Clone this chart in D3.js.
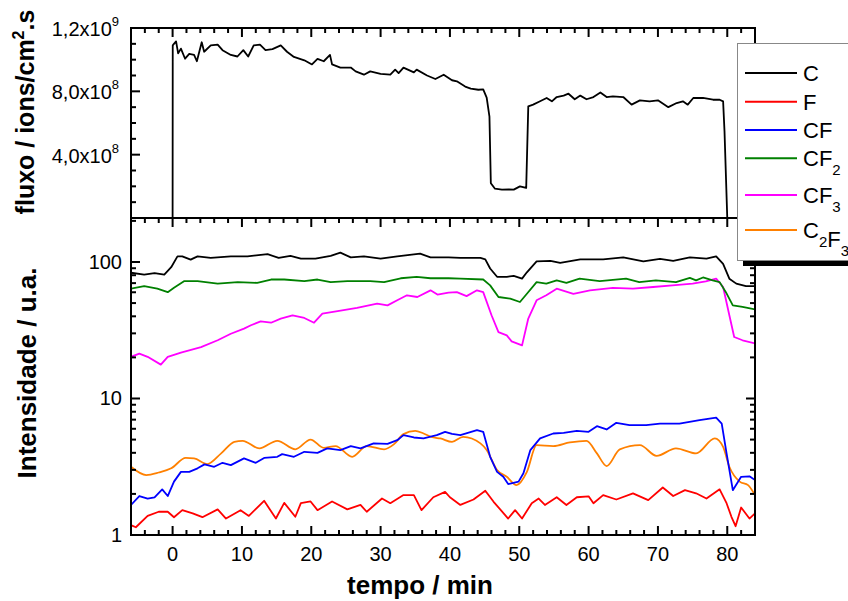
<!DOCTYPE html>
<html>
<head>
<meta charset="utf-8">
<script src="https://d3js.org/d3.v7.min.js"></script>
<style>
  body { margin: 0; background: #fff; }
  svg { display: block; font-family: "Liberation Sans", Arial, sans-serif; }
</style>
</head>
<body>
<svg id="chart" width="848" height="601"></svg>
<script>
// flux (units of 1e8 ions/cm2.s) vs time (min)
const fluxData = [[-6,0],[0,0],[0.02,10.9],[0.1,10.95],[0.5,11.15],[0.8,10.4],[1.2,10.7],[1.8,10.06],[2.4,10.36],[3.1,10.3],[3.5,9.9],[4.2,11.1],[4.55,10.5],[5.5,10.9],[6.5,10.95],[7.2,10.6],[8.4,10.3],[9.35,10.2],[10.2,10.6],[10.9,10.2],[11.7,10.9],[12.6,10.95],[13.4,10.6],[14.4,10.67],[15.6,10.9],[16.5,10.5],[17.5,10.17],[19.0,9.96],[20.1,9.7],[20.9,10.05],[21.8,9.9],[22.7,10.3],[23.0,9.7],[24.2,9.5],[25.7,9.5],[26.4,9.26],[27.6,9.05],[28.5,9.26],[30.0,9.1],[31.4,9.05],[32.1,9.37],[32.6,9.15],[33.3,9.5],[34.8,9.2],[35.2,9.37],[36.7,9.0],[37.9,8.78],[39.1,9.05],[40.3,8.7],[41.0,8.63],[42.2,8.3],[43.0,8.17],[44.1,8.1],[44.8,8.12],[45.3,7.6],[45.7,6.4],[45.9,2.2],[46.5,1.85],[47.5,1.79],[48.5,1.8],[49.2,1.79],[50.1,2.0],[51.0,1.9],[51.3,7.05],[52.0,7.16],[53.0,7.37],[53.95,7.58],[54.7,7.37],[55.4,7.64],[56.4,7.73],[57.1,7.85],[58.0,7.5],[58.8,7.73],[59.7,7.5],[60.7,7.64],[61.7,7.93],[62.6,7.64],[63.5,7.68],[65.0,7.64],[66.2,7.16],[67.4,7.43],[68.8,7.37],[70.0,7.43],[71.5,7.0],[72.7,7.26],[73.6,7.37],[74.3,7.16],[75.1,7.58],[76.5,7.58],[77.95,7.47],[78.9,7.47],[79.4,7.37],[79.6,5.5],[80.0,0],[84,0]];

// intensities (u.a.)
const cData = [[-6,83.4],[-4.1,80.9],[-2.6,83],[-1.2,80.9],[-0.2,91.6],[0.7,110],[1.4,110],[2.6,104],[3.6,110],[5.5,107],[8.4,110],[10.8,110],[13.7,114],[15.3,107],[17,111],[18.5,106],[20.6,106],[22.8,111],[24.2,117],[25.7,108],[27.6,110],[30,106],[32.4,110],[35.7,115],[37.2,108],[39.8,108],[41.5,107],[44.4,107],[45.1,104.5],[45.8,89.6],[46.8,77.9],[48.2,77.9],[49.2,79],[50.4,75.5],[51.1,84],[52.5,101],[54.5,102],[55.9,98.5],[58.8,104.5],[62.1,104.5],[65,108],[67.9,101],[70.3,105.5],[72.2,102],[74.6,108],[77,106],[78.4,110],[79.4,97],[80.3,75.5],[81.3,69.4],[82.7,66.5],[84,66.5]];
const fData = [[-6,1.18],[-5.3,1.14],[-3.6,1.38],[-2,1.48],[-0.7,1.48],[0.2,1.35],[1.4,1.52],[2.9,1.44],[4.3,1.35],[6.5,1.54],[7.7,1.32],[9.8,1.52],[11,1.38],[13.2,1.78],[14.9,1.32],[16.1,1.72],[17.7,1.36],[18.5,1.71],[19.9,1.76],[20.9,1.52],[23,1.76],[25.2,1.54],[27.1,1.66],[28,1.48],[30.2,1.85],[31.4,1.71],[33.3,1.96],[34.8,1.96],[35.9,1.52],[37.6,1.89],[39.3,2.07],[40,1.89],[41.5,1.66],[43.4,1.82],[45.1,2.11],[46.3,1.75],[48.4,1.32],[49.4,1.52],[50.4,1.32],[51.8,1.71],[52.8,1.85],[53.7,1.66],[55.4,1.89],[56.8,1.66],[58.3,1.89],[60,1.92],[60.7,1.71],[62.1,1.96],[64,1.82],[66.4,2.02],[68.6,1.8],[70.7,2.23],[72.2,1.93],[73.9,2.13],[75.5,2.02],[77,1.85],[78.9,2.16],[79.9,1.71],[80.6,1.36],[81.2,1.16],[82,1.59],[83.2,1.32],[84,1.44]];
const cfData = [[-6,1.66],[-4.8,1.93],[-3.6,1.85],[-2.6,1.89],[-1.5,2.16],[-0.7,1.93],[0.2,2.46],[1.2,2.9],[2.4,2.9],[3.6,3.08],[4.6,3.29],[6,3.16],[7.2,3.38],[8.4,3.25],[10.3,3.64],[12,3.38],[13.2,3.67],[15.1,3.74],[15.8,3.91],[17.5,3.74],[19,4.07],[20.9,4.0],[22.3,4.31],[24.2,4.19],[25.7,4.48],[27.1,4.31],[29,4.69],[31,4.65],[32.4,4.95],[33.3,5.39],[34.8,5.18],[36.2,5.1],[38.1,5.39],[39.3,5.7],[40.3,5.5],[41.5,5.39],[43.9,5.86],[44.8,5.7],[45.8,3.74],[46.8,2.9],[47.7,2.67],[48.4,2.36],[49.9,2.46],[50.6,2.83],[51.6,4.19],[53,5.1],[54.9,5.54],[56.4,5.6],[58.3,5.8],[60,5.7],[61.2,6.27],[62.6,5.93],[64,6.63],[65.9,6.38],[68.3,6.38],[70.3,6.55],[73.1,6.55],[76,6.94],[78.4,7.24],[79.2,6.55],[79.9,3.96],[80.8,2.13],[82,2.67],[83.2,2.69],[84,2.53]];
const cf2Data = [[-6,63.7],[-4.1,66.5],[-2.2,63.7],[-0.7,60.1],[0.2,64.7],[1.7,72.5],[3.6,72.5],[6.5,69.4],[9.4,71.2],[12.2,70.3],[14.2,74.4],[16.1,74.4],[19,72.5],[20.9,74.4],[22.8,71.2],[25.2,72.5],[28.5,72.5],[30.5,71.2],[32.9,76],[35.2,77.9],[37.2,76],[39.8,76],[41.5,75.5],[44.8,74.4],[45.8,67.4],[47,55.4],[48.7,53.9],[50.1,50.9],[51.1,58.5],[52.5,71.2],[53.9,69.4],[55.4,73.3],[56.8,70.3],[58.7,75.5],[61.6,72.5],[65.4,75.5],[67.3,71.2],[69.7,73.3],[72.6,71.2],[74.6,76.4],[75.5,73.3],[76.5,77],[77.9,73.3],[78.9,71.2],[79.8,60.1],[80.8,48.1],[82.2,46.9],[84,44.9]];
const cf3Data = [[-6,20.2],[-4.8,21.3],[-3.6,20.2],[-1.7,17.7],[-0.7,20.2],[1.2,21.7],[4.1,23.8],[6.5,26.7],[8.4,29.8],[10.3,32.5],[11.3,34.4],[12.7,36.7],[14.2,35.9],[15.6,38.5],[17.3,40.7],[19,38.9],[20.4,35.9],[21.6,41.9],[23.8,43.6],[26.6,46.1],[29.5,49.6],[31,48.1],[32.4,52.4],[33.8,57],[35.3,55.4],[37.2,62],[38.2,57.7],[39.8,59.7],[41,60.1],[42.4,56.2],[43.9,62],[44.8,60.1],[46,40.7],[47,30.6],[48.2,29],[48.9,26.2],[50.4,24.5],[51.3,38.5],[52.5,52.4],[53.9,57],[55.4,63.7],[57.8,58.5],[60.2,62],[63.5,64.6],[66.4,63.7],[69.3,65.6],[72.1,67.4],[75,69.4],[76.9,72],[78.4,75.5],[79.4,65.6],[80.3,40.7],[81,28.2],[82.2,26.7],[84,25.3]];
const c2f3Data = [[-6,3.16],[-3.8,2.75],[-2,2.87],[-0.2,3.08],[1.9,3.67],[3.1,3.64],[5,3.31],[7,3.96],[8.9,4.81],[10.1,4.9],[12.5,4.31],[15.1,4.9],[17.7,4.24],[19.9,5.0],[21.8,4.35],[23.5,4.48],[25.9,3.74],[28,4.48],[30.5,4.24],[31.9,4.61],[33.3,5.48],[35,5.8],[36.2,5.54],[37.6,5.18],[38.6,5.1],[40.3,4.81],[41.9,5.24],[44.4,4.69],[45.3,4.19],[46.8,2.99],[48.2,2.67],[49.6,2.32],[51.1,2.9],[52.5,4.55],[54.9,4.48],[57.3,4.77],[59.7,4.9],[61.2,3.96],[62.6,3.2],[64.5,4.24],[67.4,4.55],[69.8,3.8],[72.6,4.31],[75.5,3.96],[78.2,5.1],[79.4,4.42],[80.3,3.16],[81.8,2.46],[83,2.32],[84,1.96]];

const seriesNames = ['C', 'F', 'CF', 'CF2', 'CF3', 'C2F3'];
const seriesColors = ['#000000', '#ff0000', '#0000ff', '#008000', '#ff00ff', '#ff8000'];
const seriesData = [cData, fData, cfData, cf2Data, cf3Data, c2f3Data];
// legend labels as [text, subscript] pieces
const legendLabels = [[['C', '']], [['F', '']], [['CF', '']], [['CF', '2']], [['CF', '3']], [['C', '2'], ['F', '3']]];

const timeTicks = d3.range(0, 81, 10);
const fluxTicks = [4, 8, 12];
const fluxTickLabels = [['4,0x10', '8'], ['8,0x10', '8'], ['1,2x10', '9']];
const intTicks = [1, 10, 100];

const svg = d3.select('#chart');
const dim = { l: 131, r: 755, t1: 28, b1: 218, b2: 535 };

const x = d3.scaleLinear().domain([-6, 84]).range([dim.l, dim.r]);
const yFlux = d3.scaleLinear().domain([0, 12]).range([dim.b1, dim.t1]);
const yInt = d3.scaleLog().domain([1, 210]).range([dim.b2, dim.b1]);

const defs = svg.append('defs');
defs.append('clipPath').attr('id', 'clipTop').append('rect')
  .attr('x', dim.l).attr('y', dim.t1).attr('width', dim.r - dim.l).attr('height', dim.b1 - dim.t1);
defs.append('clipPath').attr('id', 'clipBot').append('rect')
  .attr('x', dim.l).attr('y', dim.b1).attr('width', dim.r - dim.l).attr('height', dim.b2 - dim.b1);

// lines
const fluxLine = d3.line().x((d) => x(d[0])).y((d) => yFlux(d[1]));
svg.append('path')
  .datum(fluxData)
  .attr('clip-path', 'url(#clipTop)')
  .attr('fill', 'none')
  .attr('stroke', '#000')
  .attr('stroke-width', 1.8)
  .attr('stroke-linejoin', 'round')
  .attr('d', fluxLine);

const intLine = d3.line().x((d) => x(d[0])).y((d) => yInt(d[1]));
const smoothLine = d3.line().x((d) => x(d[0])).y((d) => yInt(d[1])).curve(d3.curveMonotoneX);
const drawOrder = [5, 1, 2, 4, 3, 0];
drawOrder.forEach((i) => {
  svg.append('path')
    .datum(seriesData[i])
    .attr('clip-path', 'url(#clipBot)')
    .attr('fill', 'none')
    .attr('stroke', seriesColors[i])
    .attr('stroke-width', 1.8)
    .attr('stroke-linejoin', 'round')
    .attr('d', i == 5 ? smoothLine : intLine);
});

// frames
svg.append('rect')
  .attr('x', dim.l).attr('y', dim.t1).attr('width', dim.r - dim.l).attr('height', dim.b1 - dim.t1)
  .attr('fill', 'none').attr('stroke', '#000').attr('stroke-width', 2);
svg.append('rect')
  .attr('x', dim.l).attr('y', dim.b1).attr('width', dim.r - dim.l).attr('height', dim.b2 - dim.b1)
  .attr('fill', 'none').attr('stroke', '#000').attr('stroke-width', 2);

// ticks (all pointing inward), drawn over the frames
const tickSegs = [];
d3.range(-4, 84, 2).forEach((t) => {
  const len = t % 10 == 0 ? 9 : 5;
  tickSegs.push([x(t), dim.t1, x(t), dim.t1 + len]);
  tickSegs.push([x(t), dim.b1, x(t), dim.b1 + len]);
  tickSegs.push([x(t), dim.b2, x(t), dim.b2 - len]);
});
d3.range(1, 12).forEach((v) => {
  const len = v % 4 == 0 ? 9 : 5;
  tickSegs.push([dim.l, yFlux(v), dim.l + len, yFlux(v)]);
});
[1, 10, 100].forEach((dec) => {
  d3.range(1, 10).forEach((m) => {
    const v = m * dec;
    if (v > 210) return;
    const len = m == 1 ? 9 : 5;
    tickSegs.push([dim.l, yInt(v), dim.l + len, yInt(v)]);
    tickSegs.push([dim.r, yInt(v), dim.r - len, yInt(v)]);
  });
});
svg.append('g')
  .attr('class', 'ticks')
  .selectAll('line')
  .data(tickSegs)
  .enter()
  .append('line')
  .attr('x1', (d) => d[0])
  .attr('y1', (d) => d[1])
  .attr('x2', (d) => d[2])
  .attr('y2', (d) => d[3])
  .attr('stroke', '#000')
  .attr('stroke-width', 2);

// tick labels
svg.append('g').selectAll('text')
  .data(timeTicks)
  .enter()
  .append('text')
  .attr('x', (d) => x(d))
  .attr('y', dim.b2 + 26)
  .attr('text-anchor', 'middle')
  .attr('font-size', 20)
  .text((d) => d);

svg.append('g').selectAll('text')
  .data(intTicks)
  .enter()
  .append('text')
  .attr('x', dim.l - 9)
  .attr('y', (d) => yInt(d) + 7)
  .attr('text-anchor', 'end')
  .attr('font-size', 20)
  .text((d) => d);

const fluxLabels = svg.append('g').selectAll('text')
  .data(fluxTicks)
  .enter()
  .append('text')
  .attr('x', dim.l - 12)
  .attr('y', (d) => yFlux(d) + 8)
  .attr('text-anchor', 'end')
  .attr('font-size', 20);
fluxLabels.append('tspan').text((d, i) => fluxTickLabels[i][0]);
fluxLabels.append('tspan').attr('font-size', 13).attr('dy', -10).text((d, i) => fluxTickLabels[i][1]);

// axis titles
const title1 = svg.append('text')
  .attr('transform', 'translate(34, 112) rotate(-90)')
  .attr('text-anchor', 'middle')
  .attr('font-size', 25)
  .attr('font-weight', 'bold');
title1.append('tspan').text('fluxo / ions/cm');
title1.append('tspan').attr('font-size', 16).attr('dy', -10).text('2');
title1.append('tspan').attr('dy', 10).text('.s');

svg.append('text')
  .attr('transform', 'translate(36, 373) rotate(-90)')
  .attr('text-anchor', 'middle')
  .attr('font-size', 26)
  .attr('font-weight', 'bold')
  .text('Intensidade / u.a.');

svg.append('text')
  .attr('x', 420)
  .attr('y', 594)
  .attr('text-anchor', 'middle')
  .attr('font-size', 26)
  .attr('font-weight', 'bold')
  .text('tempo / min');

// legend
const legendY = [73, 101.7, 130, 158.3, 195, 230];
const lg = svg.append('g');
lg.append('rect').attr('x', 743).attr('y', 49).attr('width', 130).attr('height', 217).attr('fill', '#000');
lg.append('rect').attr('x', 737.5).attr('y', 43.5).attr('width', 130).attr('height', 217)
  .attr('fill', '#fff').attr('stroke', '#888').attr('stroke-width', 1);
seriesNames.forEach((name, i) => {
  lg.append('line')
    .attr('x1', 745).attr('x2', 797)
    .attr('y1', legendY[i]).attr('y2', legendY[i])
    .attr('stroke', seriesColors[i]).attr('stroke-width', 2);
  const txt = lg.append('text')
    .attr('x', 803)
    .attr('y', legendY[i] + 8)
    .attr('font-size', 22);
  legendLabels[i].forEach((part) => {
    txt.append('tspan').text(part[0]);
    if (part[1]) {
      txt.append('tspan').attr('font-size', 15).attr('dy', 9).text(part[1]);
      txt.append('tspan').attr('dy', -9).text('');
    }
  });
});
</script>
</body>
</html>
